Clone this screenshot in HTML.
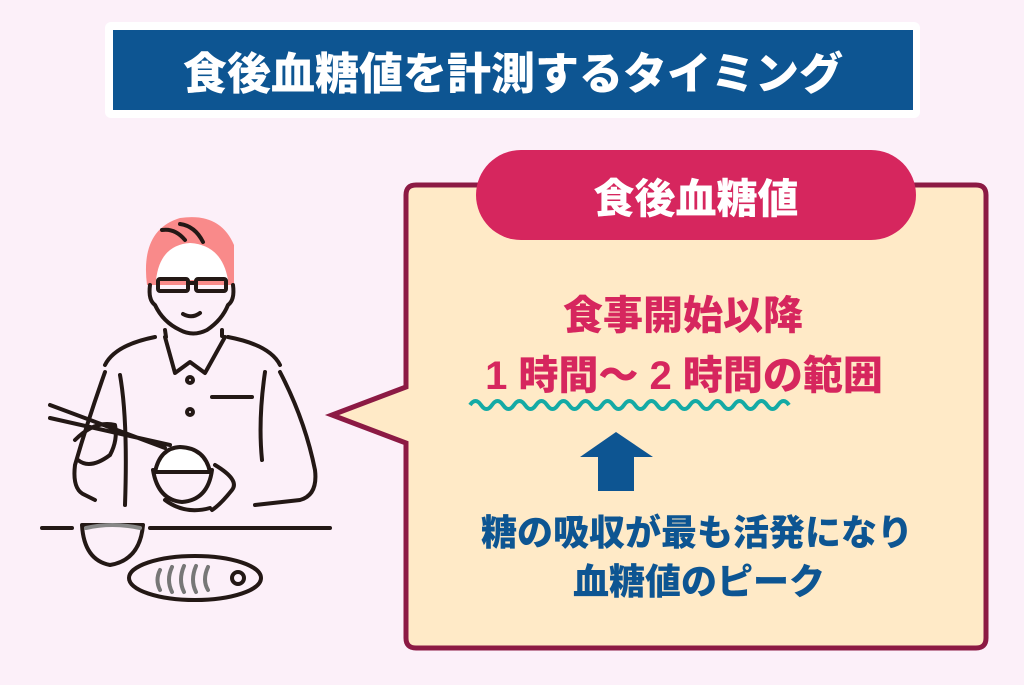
<!DOCTYPE html>
<html><head><meta charset="utf-8"><style>
html,body{margin:0;padding:0}
body{width:1024px;height:685px;background:#fcf0f9;position:relative;overflow:hidden;font-family:"Liberation Sans","Noto Sans CJK JP",sans-serif;font-weight:900}
.t{position:absolute;white-space:nowrap;text-align:center;transform:translate(-50%,-50%)}
</style></head><body>
<div style="position:absolute;left:105px;top:22px;width:815px;height:96px;background:#fff;border-radius:6px"></div>
<div style="position:absolute;left:113px;top:30px;width:800px;height:80px;background:#0d5592"></div>
<div class="t" style="left:513px;top:70px;font-size:44px;color:#fff">食後血糖値を計測するタイミング</div>

<svg width="1024" height="685" style="position:absolute;left:0;top:0">
<path d="M416 185 H976 Q986 185 986 195 V638 Q986 648 976 648 H416 Q406 648 406 638 V443 L332 415 L406 387 V195 Q406 185 416 185 Z" fill="#ffeac7" stroke="#8c1a44" stroke-width="5" stroke-linejoin="miter"/>
<rect x="476" y="150" width="440" height="90" rx="45" fill="#d6265e"/>
<path d="M470 405 q5.5 -8 11 0 t11 0 t11 0 t11 0 t11 0 t11 0 t11 0 t11 0 t11 0 t11 0 t11 0 t11 0 t11 0 t11 0 t11 0 t11 0 t11 0 t11 0 t11 0 t11 0 t11 0 t11 0 t11 0 t11 0 t11 0 t11 0 t11 0 t11 0 t11 0 " fill="none" stroke="#14aaa5" stroke-width="4"/>
<path d="M616 432 L653 457 L634 457 L634 491 L598 491 L598 457 L580 457 Z" fill="#0d5592"/>
<g fill="none" stroke="#231815" stroke-width="4" stroke-linecap="round" stroke-linejoin="round">
<path d="M147 285 Q140 230 180 218 Q220 212 234 245 L234 285 Z" fill="#f98a8a" stroke="none"/>
<path d="M156 280 Q160 245 190 243 Q222 245 228 280 Z" fill="#fff" stroke="none"/>
<path d="M162 230 Q175 228 185 240 M180 224 Q195 226 203 242"/>
<path d="M150 285 Q148 300 155 305 Q163 322 180 330 Q193 337 207 330 Q222 320 228 305 Q235 300 233 285"/>
<rect x="158" y="279" width="30" height="12" rx="2"/><rect x="196" y="279" width="30" height="12" rx="2"/>
<path d="M188 283 H196"/>
<path d="M183 314 Q192 319 200 313"/>
<path d="M165 330 L166 337 M222 330 L222 336"/>
<path d="M155 337 Q115 345 105 365 M228 337 Q270 345 280 365"/>
<path d="M165 337 L175 373 L190 362 L205 373 L225 337"/>
<path d="M105 372 Q88 420 75 465 Q72 490 85 495 L95 500"/>
<path d="M280 372 Q305 420 315 470 Q318 495 300 500 L255 505"/>
<path d="M120 375 Q128 420 125 505 M265 372 Q258 420 262 460"/>
<path d="M212 397 H252"/>
<circle cx="190" cy="380" r="3"/>
<circle cx="190" cy="412" r="3"/>
<path d="M50 405 L165 448 M50 418 L170 445"/>
<path d="M75 440 Q95 420 115 425 Q118 440 110 455 Q90 470 78 460"/>
<path d="M155 472 Q160 448 180 447 Q205 448 210 472 Z" fill="#fff"/>
<path d="M153 470 Q158 500 182 502 Q208 500 212 470"/>
<path d="M165 500 Q185 515 210 508 M215 465 Q240 480 232 490 Q220 505 212 510"/>
<path d="M42 528 H72 M150 528 H330"/>
<path d="M82 525 Q84 560 110 565 Q140 560 143 525 Z"/>
<path d="M86 528 Q112 522 140 528" stroke="#888"/>
<ellipse cx="195" cy="578" rx="66" ry="22"/>
<path d="M160 570 Q155 580 160 590 M172 567 Q166 580 172 592 M184 566 Q178 580 184 592 M196 566 Q190 580 196 592 M208 567 Q202 580 208 590" stroke="#777"/>
<circle cx="238" cy="578" r="6"/>
</g>
</svg>

<div class="t" style="left:696px;top:195px;font-size:41px;color:#fff">食後血糖値</div>
<div class="t" style="left:683px;top:312px;font-size:40px;color:#d6265e">食事開始以降</div>
<div class="t" style="left:684px;top:372px;font-size:40px;color:#d6265e">1 時間～ 2 時間の範囲</div>
<div class="t" style="left:697px;top:530px;font-size:36px;color:#0d5592">糖の吸収が最も活発になり</div>
<div class="t" style="left:699px;top:579px;font-size:36px;color:#0d5592">血糖値のピーク</div>
</body></html>
